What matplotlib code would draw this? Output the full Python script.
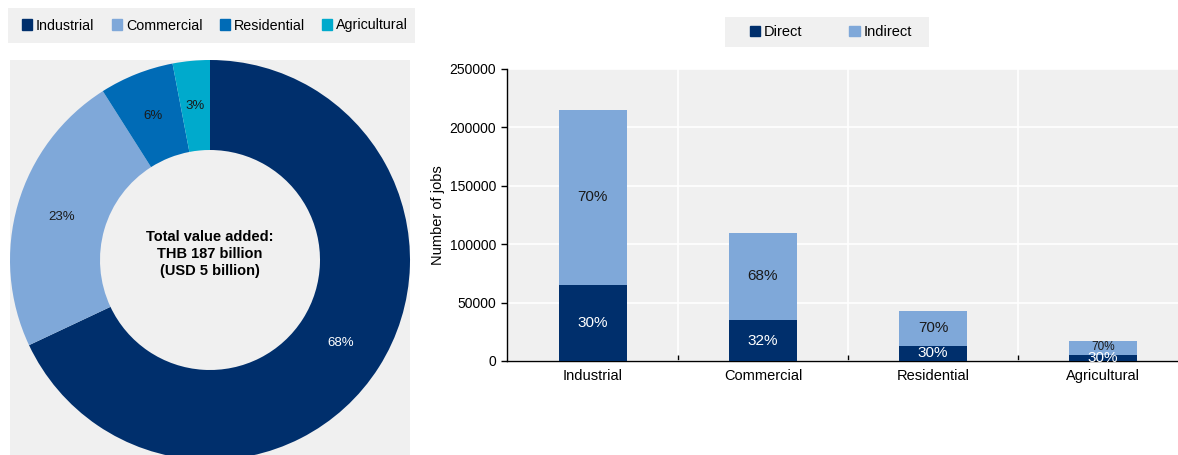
import numpy as np
import matplotlib
matplotlib.use("Agg")
import matplotlib.pyplot as plt
from matplotlib.patches import Patch, Rectangle

plt.rcParams['font.family'] = ['Liberation Sans', 'DejaVu Sans']

# donut data
sectors = ["Industrial", "Commercial", "Residential", "Agricultural"]
value_added_share = [68, 23, 6, 3]

# jobs data
direct_jobs = [65000, 35000, 13000, 5000]
indirect_jobs = [150000, 75000, 30000, 12000]
direct_pct = ["30%", "32%", "30%", "30%"]
indirect_pct = ["70%", "68%", "70%", "70%"]
yticks = [0, 50000, 100000, 150000, 200000, 250000]

sector_colors = ["#002F6C", "#7FA8D9", "#006BB6", "#00AACC"]
c_direct = "#002F6C"
c_indirect = "#7FA8D9"
bg = "#F0F0F0"

W, H = 1178, 455
DPI = 100
fig = plt.figure(figsize=(W/DPI, H/DPI), dpi=DPI)

def px_axes(l, t, r, b):
    return fig.add_axes([l/W, 1 - b/H, (r - l)/W, (b - t)/H])

def px_box(l, t, r, b):
    fig.patches.append(Rectangle((l/W, 1 - b/H), (r - l)/W, (b - t)/H,
                                 transform=fig.transFigure, facecolor=bg,
                                 edgecolor="none", zorder=0))

# ---- donut ----
ax1 = px_axes(10, 60, 410, 455)
wedges, _ = ax1.pie(value_added_share, colors=sector_colors, startangle=90,
                    counterclock=False, radius=1, frame=True,
                    wedgeprops=dict(width=0.45, linewidth=0))
ax1.set_facecolor(bg)
for w, v in zip(wedges, value_added_share):
    ang = np.deg2rad((w.theta1 + w.theta2) / 2)
    col = "white" if v == 68 else "#1a1a1a"
    ax1.text(0.775*np.cos(ang), 0.775*np.sin(ang), f"{v}%", ha="center",
             va="center", fontsize=9.5, color=col)
ax1.text(0, 0.03, "Total value added:\nTHB 187 billion\n(USD 5 billion)",
         ha="center", va="center", fontsize=10.5, fontweight="bold",
         linespacing=1.3)
ax1.set_xlim(-1, 1)
ax1.set_ylim(-0.975, 1)
ax1.set_aspect("auto")
ax1.set_xticks([])
ax1.set_yticks([])
for s in ax1.spines.values():
    s.set_visible(False)

px_box(8, 8, 415, 43)
fig.legend([Patch(color=c) for c in sector_colors], sectors,
           loc="center", bbox_to_anchor=(215/W, 1 - 25.5/H), ncol=4,
           frameon=False, fontsize=10.3, handlelength=0.7, handleheight=0.7,
           handletextpad=0.3, columnspacing=1.2, borderaxespad=0)

# ---- stacked bars ----
ax2 = px_axes(507, 69, 1178, 361)
ax2.set_facecolor(bg)
x = np.arange(len(sectors))
bw = 0.4
ax2.bar(x, direct_jobs, bw, color=c_direct, zorder=3)
ax2.bar(x, indirect_jobs, bw, bottom=direct_jobs, color=c_indirect, zorder=3)
for i in range(len(sectors)):
    ax2.text(x[i], direct_jobs[i]/2, direct_pct[i], ha="center", va="center",
             color="white", fontsize=11, zorder=4)
    fs = 11 if i < 3 else 8.5
    ax2.text(x[i], direct_jobs[i] + indirect_jobs[i]/2 + (0 if i < 3 else 800),
             indirect_pct[i], ha="center", va="center", color="#1a1a1a",
             fontsize=fs, zorder=4)

ax2.set_ylim(0, 250000)
ax2.set_xlim(-0.505, 3.44)
ax2.set_yticks(yticks)
ax2.set_yticklabels([str(t) for t in yticks], fontsize=10)
ax2.yaxis.grid(True, color="white", linewidth=1.2, zorder=1)
for b in [0.5, 1.5, 2.5]:
    ax2.axvline(b, color="white", linewidth=1.2, zorder=1)
ax2.set_xticks(x)
ax2.set_xticklabels(sectors, fontsize=10.5)
ax2.tick_params(axis="x", which="major", length=0, pad=6)
ax2.set_xticks([0.5, 1.5, 2.5], minor=True)
ax2.tick_params(axis="x", which="minor", direction="in", length=4, width=1)
ax2.tick_params(axis="y", length=4, width=1, pad=4)
ax2.set_ylabel("Number of jobs", fontsize=10.5, labelpad=3)
ax2.spines["top"].set_visible(False)
ax2.spines["right"].set_visible(False)
ax2.spines["left"].set_linewidth(1)
ax2.spines["bottom"].set_linewidth(1)

px_box(725, 17, 929, 47)
fig.legend([Patch(color=c_direct), Patch(color=c_indirect)], ["Direct", "Indirect"],
           loc="center", bbox_to_anchor=(831/W, 1 - 32/H), ncol=2,
           frameon=False, fontsize=10.5, handlelength=0.7, handleheight=0.7,
           handletextpad=0.3, columnspacing=3.2, borderaxespad=0)

fig.savefig("out.png", dpi=DPI)
